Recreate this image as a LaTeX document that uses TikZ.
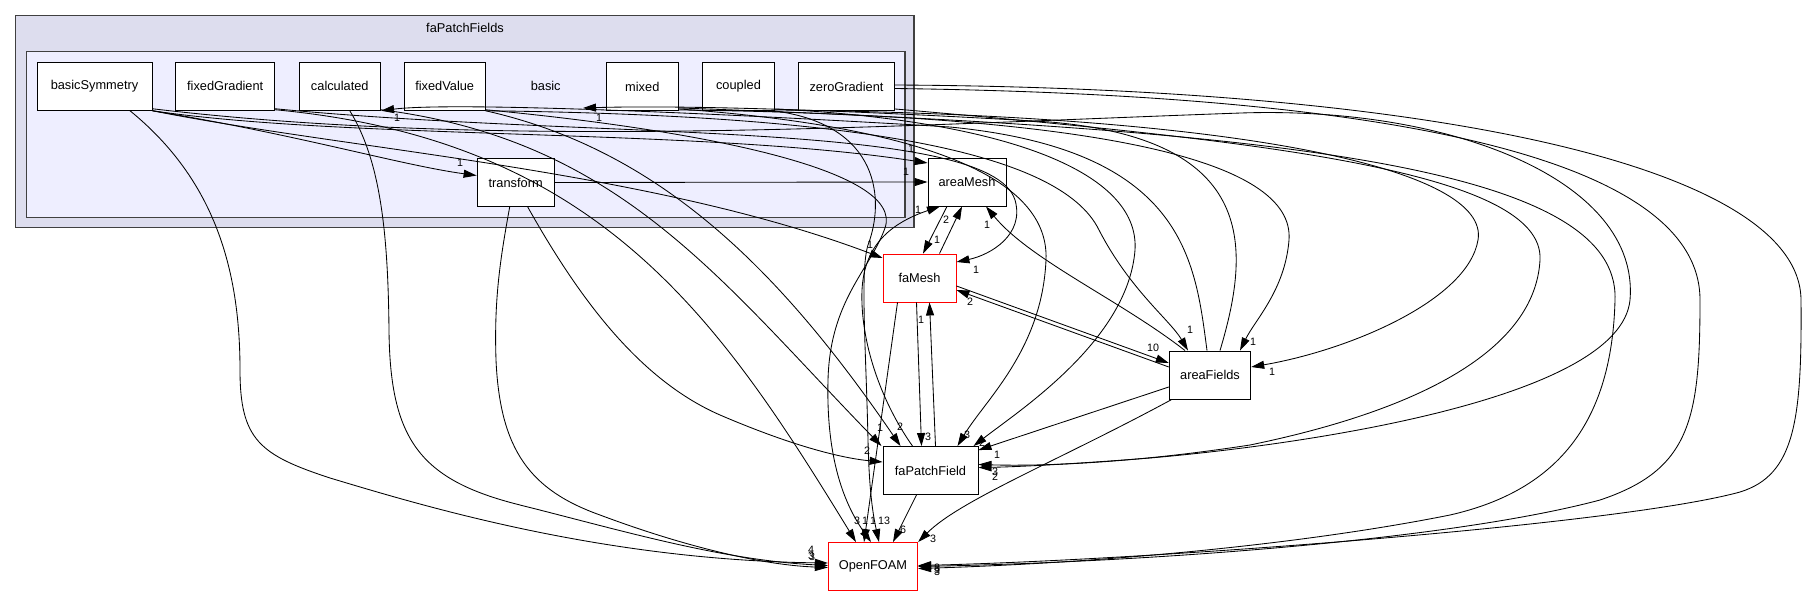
\documentclass[tikz,border=0pt]{standalone}
\usepackage{fontspec}
\newfontfamily\dgfont{Liberation Sans}
\usetikzlibrary{arrows.meta}
\newcommand\dgnodefont{\dgfont\fontsize{12.8}{15}\selectfont}
\newcommand\dglabelfont{\dgfont\fontsize{10.7}{12}\selectfont}
\definecolor{clouter}{HTML}{DDDDEE}
\definecolor{clinner}{HTML}{EEEEFF}
\definecolor{clborder}{HTML}{404040}
\begin{document}
\begin{tikzpicture}[x=1pt,y=-1pt,
  box/.style={draw=black, fill=white, line width=0.9pt, minimum height=48pt, inner sep=0pt, font=\dgnodefont},
  redbox/.style={box, draw=red},
  cluster/.style={draw=clborder, line width=1.3pt, inner sep=0pt},
  edge/.style={draw=black, line width=0.85pt, -{Triangle[length=13pt,width=8pt]}},
  lab/.style={font=\dglabelfont, inner sep=0pt},
  ttl/.style={font=\dgnodefont, inner sep=0pt}]
\useasboundingbox (0,0) rectangle (1809,596);
\fill[white] (0,0) rectangle (1809,596);
% clusters
\node[cluster, fill=clouter, minimum width=898.3pt, minimum height=211.8pt] (faPF) at (464.85,121.6) {};
\node[ttl] (faPFlab) at (465,28) {faPatchFields};
\node[cluster, fill=clinner, minimum width=878.3pt, minimum height=165.6pt] (basicCl) at (465.85,134.5) {};
\node[ttl] (basiclab) at (545.7,86.3) {basic};
\coordinate (basicIn) at (583,108);
% nodes
\node[box, minimum width=115pt] (bS) at (94.5,86.3) {basicSymmetry};
\node[box, minimum width=99pt] (fG) at (225.2,86.3) {fixedGradient};
\node[box, minimum width=81.7pt] (ca) at (339.8,86.3) {calculated};
\node[box, minimum width=80.7pt] (fV) at (444.7,86.3) {fixedValue};
\node[box, minimum width=72pt] (mi) at (642.3,86.5) {mixed};
\node[box, minimum width=71.6pt] (co) at (738.5,86.5) {coupled};
\node[box, minimum width=95.6pt] (zG) at (846.5,86.5) {zeroGradient};
\node[box, minimum width=77.3pt] (tr) at (515.7,182.5) {transform};
\node[box, minimum width=78pt] (aM) at (967,182) {areaMesh};
\node[redbox, minimum width=73pt] (fM) at (919.5,278) {faMesh};
\node[box, minimum width=81.5pt] (aF) at (1210,375) {areaFields};
\node[box, minimum width=95pt] (fPF) at (930.5,470.5) {faPatchField};
\node[redbox, minimum width=89.4pt] (OF) at (873,566.5) {OpenFOAM};
% edges
\draw[edge] (bS.south east) .. controls (300,135) and (400,165) .. ([yshift=7pt]tr.west);
\draw[edge] (bS.south east) .. controls (350,140) and (700,128) .. ([yshift=19pt]aM.west);
\draw[edge] (bS.south east) .. controls (350,150) and (650,170) .. ([yshift=20pt]fM.west);
\draw[edge] ([xshift=35.5pt]bS.south) .. controls (215,180) and (240,270) .. (240,370) .. controls (240,440) and (260,455) .. (330,478) .. controls (420,505) and (600,560) .. ([yshift=3.5pt]OF.west);
\draw[edge] ([xshift=10pt]ca.south) .. controls (380,160) and (388,230) .. (389,330) .. controls (390,440) and (420,480) .. (520,505) .. controls (620,530) and (720,560) .. ([yshift=1pt]OF.west);
\draw[edge] ([xshift=-6pt]tr.south) .. controls (500,260) and (494,300) .. (496,360) .. controls (500,450) and (530,490) .. (600,515) .. controls (680,545) and (760,565) .. ([yshift=-1pt]OF.west);
\draw[edge] ([xshift=12pt]tr.south) .. controls (580,300) and (640,380) .. (720,415) .. controls (790,445) and (840,458) .. ([yshift=8.5pt]fPF.west);
\draw[edge] (tr.east) -- (aM.west);
\draw[edge] ([yshift=1pt]fG.south east) .. controls (600,140) and (720,320) .. ([xshift=-17pt]OF.north);
\draw[edge] ([yshift=1pt]ca.south east) .. controls (620,140) and (720,280) .. ([xshift=-49pt]fPF.north);
\draw[edge] (fV.south east) .. controls (660,150) and (780,270) .. ([xshift=-30pt]fPF.north);
\draw[edge] ([xshift=-22pt]fM.south) -- ([xshift=-9pt]OF.north);
\draw[edge] ([yshift=1pt]fV.south east) .. controls (700,130) and (905,170) .. (885,228) .. controls (870,270) and (830,300) .. (828,380) .. controls (826,460) and (845,505) .. ([xshift=-2pt]OF.north);
\draw[edge] (co.south east) .. controls (880,125) and (885,200) .. (868,245) .. controls (860,270) and (866,350) .. (868,440) .. controls (869,490) and (873,515) .. ([xshift=6pt]OF.north);
\draw[edge] ([xshift=-14pt]fPF.south) -- ([xshift=20pt]OF.north);
\draw[edge] ([xshift=3pt]aF.south west) .. controls (1060,460) and (960,500) .. (OF.north east);
\draw[edge] ([yshift=-12pt]aF.west) -- ([yshift=-4pt]fPF.north east);
\draw[edge] ([yshift=-8pt]fM.east) -- ([yshift=12pt]aF.west);
\draw[edge] ([yshift=8pt]aF.west) -- ([yshift=-12pt]fM.east);
\draw[edge] ([xshift=-20pt]aM.south) -- ([xshift=3.5pt]fM.north);
\draw[edge] ([xshift=20pt]fM.north) -- ([xshift=-5pt]aM.south);
\draw[edge] ([xshift=-18pt]fPF.north) .. controls (880,400) and (860,340) .. (862,290) .. controls (864,250) and (885,225) .. ([xshift=-27pt]aM.south);
\draw[edge] ([xshift=5pt]fPF.north) -- ([xshift=10pt]fM.south);
\draw[edge] ([xshift=-3pt]fM.south) -- ([xshift=-9pt]fPF.north);
\draw[edge] ([xshift=-25pt]aF.north) .. controls (1120,300) and (1030,260) .. ([xshift=19pt]aM.south);
\draw[edge] (fV.south east) .. controls (850,115) and (1060,150) .. (1099,230) .. controls (1130,290) and (1170,320) .. ([xshift=-22pt]aF.north);
\draw[edge] ([yshift=1pt]mi.south east) .. controls (1100,115) and (1295,160) .. (1289,240) .. controls (1285,290) and (1255,320) .. ([xshift=30pt]aF.north);
\draw[edge] ([yshift=1pt]co.south east) .. controls (1250,115) and (1490,170) .. (1478,240) .. controls (1468,300) and (1350,350) .. ([yshift=8pt]aF.east);
\draw[edge] ([yshift=2pt]mi.south east) .. controls (900,125) and (1050,170) .. (1046,260) .. controls (1042,350) and (985,400) .. ([xshift=27pt]fPF.north);
\draw[edge] ([yshift=2pt]co.south east) .. controls (1000,120) and (1140,170) .. (1135,250) .. controls (1128,340) and (1020,410) .. ([xshift=43pt]fPF.north);
\draw[edge] ([yshift=2pt]zG.south east) .. controls (1250,140) and (1545,170) .. (1540,260) .. controls (1535,350) and (1420,410) .. (1250,445) .. controls (1120,465) and (1030,466) .. ([yshift=6pt]fPF.east);
\draw[edge] ([yshift=2pt]bS.south east) .. controls (500,150) and (900,125) .. (1241,113) .. controls (1450,106) and (1640,180) .. (1630,300) .. controls (1620,400) and (1300,445) .. (1150,458) .. controls (1060,465) and (1010,467) .. ([yshift=3pt]fPF.east);
\draw[edge] ([yshift=1.5pt]zG.east) .. controls (1450,88) and (1800,170) .. (1801,300) .. controls (1802,420) and (1795,475) .. (1740,492) .. controls (1620,525) and (1150,560) .. ([yshift=1pt]OF.east);
\draw[edge] ([yshift=-2pt]zG.east) .. controls (1400,95) and (1700,160) .. (1700,300) .. controls (1700,420) and (1690,470) .. (1600,500) .. controls (1450,540) and (1150,562) .. (OF.east);
\draw[edge] ([yshift=3pt]mi.south east) .. controls (1300,130) and (1620,170) .. (1615,300) .. controls (1612,420) and (1560,490) .. (1450,515) .. controls (1300,545) and (1100,563) .. ([yshift=-2pt]OF.east);
\draw[edge] ([yshift=2pt]fG.south east) .. controls (600,140) and (990,120) .. (1015,200) .. controls (1025,235) and (990,255) .. ([yshift=16pt]fM.east);
\draw[edge] ([xshift=-3pt]aF.north) .. controls (1195,260) and (1185,150) .. (950,127) .. controls (700,112) and (450,102) .. (ca.south east);
\draw[edge] ([xshift=10pt]aF.north) .. controls (1250,250) and (1260,140) .. (1050,122) .. controls (850,110) and (680,105) .. (basicIn);
% labels
\node[lab] (l1) at (460,163) {1};
\node[lab] (l2) at (911,149) {1};
\node[lab] (l3) at (870,245) {1};
\node[lab] (l4) at (811,550) {4};
\node[lab] (l5) at (811,556) {3};
\node[lab] (l6) at (812,557) {3};
\node[lab] (l7) at (867,451) {2};
\node[lab] (l8) at (906,172) {1};
\node[lab] (l9) at (857,521) {3};
\node[lab] (l10) at (880,428) {1};
\node[lab] (l11) at (900,427) {2};
\node[lab] (l12) at (865,521) {1};
\node[lab] (l13) at (873,521) {1};
\node[lab] (l14) at (884,521) {13};
\node[lab] (l15) at (903,530) {6};
\node[lab] (l16) at (933,539) {3};
\node[lab] (l17) at (997,455) {1};
\node[lab] (l18) at (1153,348) {10};
\node[lab] (l19) at (970,302) {2};
\node[lab] (l20) at (937,240) {1};
\node[lab] (l21) at (946,220) {2};
\node[lab] (l22) at (918,210) {1};
\node[lab] (l23) at (921,320) {1};
\node[lab] (l24) at (928,437) {3};
\node[lab] (l25) at (987,225) {1};
\node[lab] (l26) at (1190,330) {1};
\node[lab] (l27) at (1253,342) {1};
\node[lab] (l28) at (1272,372) {1};
\node[lab] (l29) at (967,435) {3};
\node[lab] (l30) at (982,443) {2};
\node[lab] (l31) at (995,472) {3};
\node[lab] (l32) at (995,477) {2};
\node[lab] (l33) at (937,568) {3};
\node[lab] (l34) at (937,570) {5};
\node[lab] (l35) at (937,572) {3};
\node[lab] (l36) at (976,270) {1};
\node[lab] (l37) at (397,118) {1};
\node[lab] (l38) at (599,118) {1};
\end{tikzpicture}
\end{document}
